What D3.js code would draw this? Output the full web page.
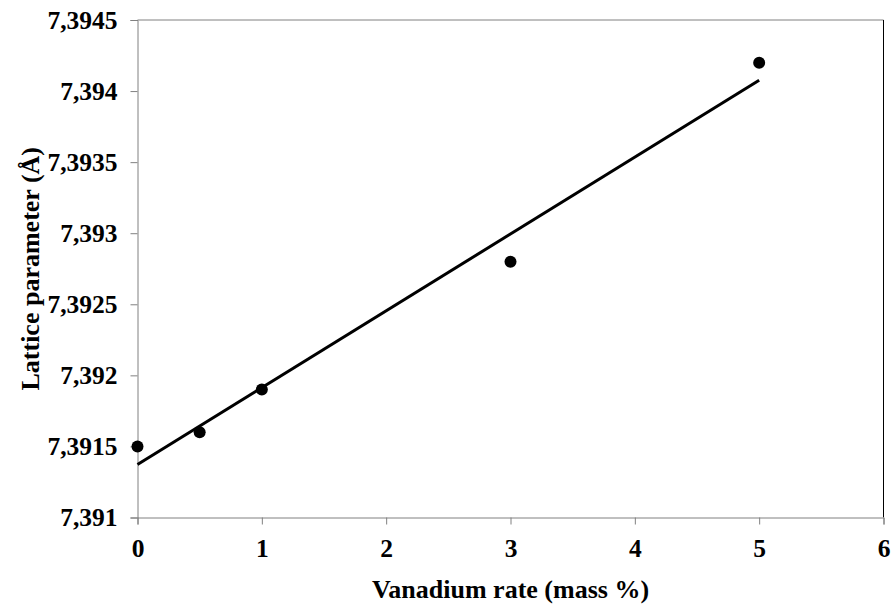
<!DOCTYPE html>
<html>
<head>
<meta charset="utf-8">
<script src="https://cdn.jsdelivr.net/npm/d3@7"></script>
<style>
  body { margin: 0; background: #fff; }
  text { font-family: "Liberation Serif", "Times New Roman", serif; font-weight: bold; }
</style>
</head>
<body>
<svg id="chart" width="891" height="608"></svg>
<script>
// data
var vanadium = [0, 0.5, 1, 3, 5];
var lattice = [7.3915, 7.3916, 7.3919, 7.3928, 7.3942];
var xTicks = [0, 1, 2, 3, 4, 5, 6];
var yTicks = [7.391, 7.3915, 7.392, 7.3925, 7.393, 7.3935, 7.394, 7.3945];

var svg = d3.select("#chart");
var pL = 137.5, pT = 20, pR = 883.5, pB = 517.5;

var x = d3.scaleLinear().domain([0, 6]).range([pL, pR]);
var y = d3.scaleLinear().domain([7.391, 7.3945]).range([pB, pT]);

function fmt(v){
  return String(+v.toFixed(4)).replace(".", ",");
}

// frame
svg.append("line").attr("x1", pL).attr("x2", pR).attr("y1", pT).attr("y2", pT)
  .attr("stroke", "#808080");
svg.append("line").attr("x1", pR).attr("x2", pR).attr("y1", pT).attr("y2", pB)
  .attr("stroke", "#000");

var xAxis = svg.append("g").attr("transform", "translate(0," + pB + ")")
  .call(d3.axisBottom(x).tickValues(xTicks).tickFormat(d3.format("d")).tickSizeOuter(0).tickSize(7).tickPadding(14));
var yAxis = svg.append("g").attr("transform", "translate(" + pL + ",0)")
  .call(d3.axisLeft(y).tickValues(yTicks).tickFormat(fmt).tickSizeOuter(0).tickSize(7).tickPadding(13));

[xAxis, yAxis].forEach(function(g){
  g.select(".domain").attr("stroke", "#808080");
  g.selectAll(".tick line").attr("stroke", "#808080");
  g.selectAll(".tick text").attr("fill", "#000").style("font-size", "25.5px")
    .style("font-family", "Liberation Serif").style("font-weight", "bold");
});

// linear trend line (least squares on the points)
var mx = d3.mean(vanadium), my = d3.mean(lattice);
var sxy = d3.sum(vanadium, function(v, i){ return (v - mx) * (lattice[i] - my); });
var sxx = d3.sum(vanadium, function(v){ return (v - mx) * (v - mx); });
var slope = sxy / sxx, icpt = my - slope * mx;

svg.append("line")
  .attr("x1", x(0)).attr("y1", y(icpt))
  .attr("x2", x(5)).attr("y2", y(icpt + slope * 5))
  .attr("stroke", "#000").attr("stroke-width", 3);

svg.selectAll("circle.pt")
  .data(vanadium)
  .enter()
  .append("circle")
  .attr("class", "pt")
  .attr("cx", function(d){ return x(d); })
  .attr("cy", function(d, i){ return y(lattice[i]); })
  .attr("r", 6)
  .attr("fill", "#000");

svg.append("text")
  .attr("x", (pL + pR) / 2).attr("y", 598)
  .attr("text-anchor", "middle")
  .style("font-size", "26px")
  .text("Vanadium rate (mass %)");

svg.append("text")
  .attr("transform", "translate(39," + ((pT + pB) / 2) + ") rotate(-90)")
  .attr("text-anchor", "middle")
  .style("font-size", "26px")
  .text("Lattice parameter (Å)");
</script>
</body>
</html>
